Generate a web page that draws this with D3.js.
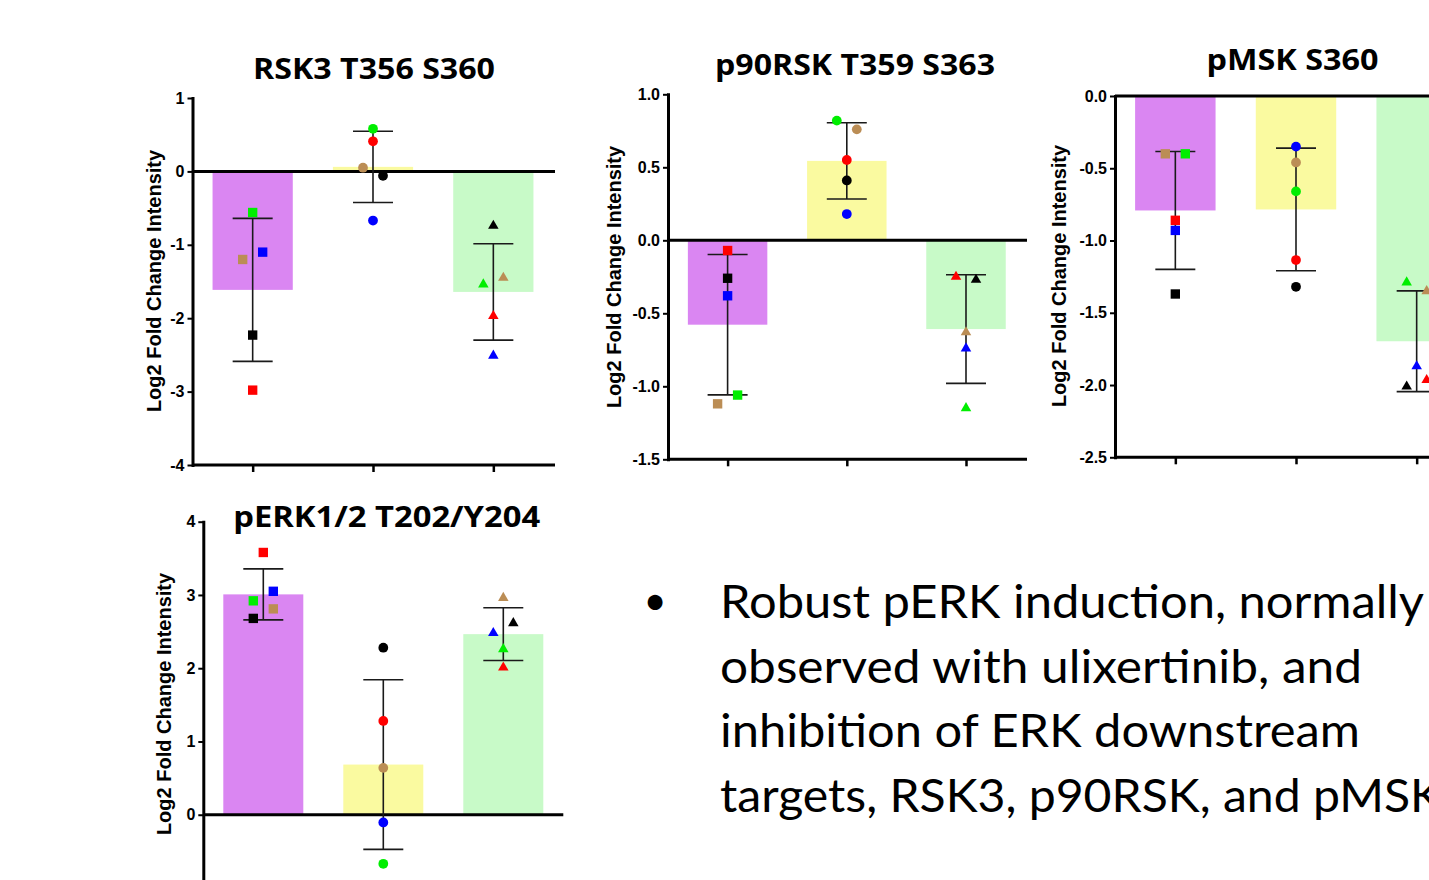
<!DOCTYPE html>
<html>
<head>
<meta charset="utf-8">
<script src="https://cdn.jsdelivr.net/npm/d3@7"></script>
<style>
	html, body { margin: 0; padding: 0; background: #fff; overflow: hidden; }
	svg { display: block; }
</style>
</head>
<body>
<div id="chart"></div>
<script>
//	replicate order inside every group: red, blue, green, tan, black
const replicates = ['red', 'blue', 'green', 'tan', 'black'];
const groups = ['g1', 'g2', 'g3'];

const rsk3Title = 'RSK3 T356 S360';
const rsk3Ticks = [1, 0, -1, -2, -3, -4];
const rsk3Values = [
	[-2.98, -1.10, -0.56, -1.20, -2.23],
	[0.41, -0.67, 0.58, 0.05, -0.06],
	[-1.97, -2.51, -1.54, -1.45, -0.74]
];

const p90Title = 'p90RSK T359 S363';
const p90Ticks = [1.0, 0.5, 0.0, -0.5, -1.0, -1.5];
const p90Values = [
	[-0.07, -0.38, -1.06, -1.12, -0.26],
	[0.55, 0.18, 0.82, 0.76, 0.41],
	[-0.25, -0.74, -1.15, -0.63, -0.27]
];

const pmskTitle = 'pMSK S360';
const pmskTicks = [0.0, -0.5, -1.0, -1.5, -2.0, -2.5];
const pmskValues = [
	[-0.86, -0.93, -0.40, -0.40, -1.37],
	[-1.135, -0.35, -0.66, -0.46, -1.32],
	[-1.965, -1.87, -1.29, -1.35, -2.01]
];

const perkTitle = 'pERK1/2 T202/Y204';
const perkTicks = [4, 3, 2, 1, 0, -1];
const perkValues = [
	[3.58, 3.05, 2.92, 2.81, 2.68],
	[1.28, -0.105, -0.67, 0.64, 2.28],
	[2.01, 2.48, 2.26, 2.96, 2.615]
];

const yLabel = 'Log2 Fold Change Intensity';
const bulletLines = [
	'Robust pERK induction, normally',
	'observed with ulixertinib, and',
	'inhibition of ERK downstream',
	'targets, RSK3, p90RSK, and pMSK'
];

//	样式
const barColors = ['#da86f2', '#fafaa0', '#c8fac8'];
const shapes = [d3.symbolSquare, d3.symbolCircle, d3.symbolTriangle];
const shapeSizes = [88, 75, 48];
const dotColors = { red: '#ff0000', blue: '#0000ff', green: '#00ee00', tan: '#bb8d55', black: '#000000' };
const H = 880;

//	每个面板的位置（像素）
const panels = [
	{
		title: rsk3Title, ticks: rsk3Ticks, values: rsk3Values, digits: 0,
		x: [192.5, 553.5], xEnd: 555, y: [465, 98],
		titleX: 374, titleY: 79, titleW: 242, labelX: 161, labelY: 281,
		jitter: [[0, 10, 0, -10, 0], [0, 0, 0, -10, 10], [0, 0, -10, 10, 0]]
	},
	{
		title: p90Title, ticks: p90Ticks, values: p90Values, digits: 1,
		x: [668, 1025.6], xEnd: 1027, y: [459.3, 94.3],
		titleX: 855, titleY: 75, titleW: 280, labelX: 621, labelY: 277,
		jitter: [[0, 0, 10, -10, 0], [0, 0, -10, 10, 0], [-10, 0, 0, 0, 10]]
	},
	{
		title: pmskTitle, ticks: pmskTicks, values: pmskValues, digits: 1,
		x: [1115, 1477], xEnd: 1480, y: [457.3, 96],
		titleX: 1292.5, titleY: 70, titleW: 172, labelX: 1066, labelY: 276,
		jitter: [[0, 0, 10, -10, 0], [0, 0, 0, 0, 0], [10, 0, -10, 10, -10]]
	},
	{
		title: perkTitle, ticks: perkTicks, values: perkValues, digits: 0,
		x: [203.3, 563.3], xEnd: 563.3, y: [888, 521.7],
		titleX: 386.7, titleY: 527, titleW: 307, labelX: 171, labelY: 704,
		jitter: [[0, 10, -10, 10, -10], [0, 0, 0, 0, 0], [0, -10, 0, 0, 10]]
	}
];

const drawMain = ($el, width, height) => {
	return d3.select($el)
		.append('svg')
		.attr('width', width)
		.attr('height', height);
};

//	画一个面板
const drawPanel = (svg, p) => {
	const g = svg.append('g');
	const x = d3.scalePoint().domain(groups).range(p.x).padding(0.5);
	const y = d3.scaleLinear().domain(d3.extent(p.ticks)).range(p.y);
	const barW = x.step() * 2 / 3;
	const stats = p.values.map((v, i) => ({
		group: groups[i],
		mean: d3.mean(v),
		sd: d3.deviation(v)
	}));

	//	柱子
	g.selectAll('rect.bar')
		.data(stats)
		.enter()
		.append('rect')
		.attr('class', 'bar')
		.attr('x', d => x(d.group) - barW / 2)
		.attr('y', d => y(Math.max(0, d.mean)))
		.attr('width', barW)
		.attr('height', d => Math.abs(y(d.mean) - y(0)))
		.style('fill', (d, i) => barColors[i]);

	//	x 轴（无标签）
	const gx = g.append('g')
		.attr('transform', 'translate(0,' + p.y[0] + ')')
		.call(d3.axisBottom(x).tickSize(7).tickSizeOuter(0).tickFormat(''));
	gx.select('.domain').remove();
	gx.selectAll('.tick line').attr('stroke', '#000').attr('stroke-width', 2.5);
	gx.append('line')
		.attr('x1', p.x[0]).attr('x2', p.xEnd)
		.attr('stroke', '#000').attr('stroke-width', 3);

	//	零线
	g.append('line')
		.attr('x1', p.x[0]).attr('x2', p.xEnd)
		.attr('y1', y(0)).attr('y2', y(0))
		.attr('stroke', '#000').attr('stroke-width', 3);

	//	y 轴（只画窗口内的刻度）
	const gy = g.append('g')
		.attr('transform', 'translate(' + p.x[0] + ',0)')
		.call(d3.axisLeft(y)
			.tickValues(p.ticks.filter(t => y(t) < H - 4))
			.tickSize(5)
			.tickSizeOuter(0)
			.tickPadding(3)
			.tickFormat(d => d.toFixed(p.digits)));
	gy.select('.domain').attr('stroke', '#000').attr('stroke-width', 3).attr('stroke-linecap', 'square');
	gy.selectAll('.tick line').attr('stroke', '#000').attr('stroke-width', 2);
	gy.selectAll('.tick text')
		.style('font-family', '"Liberation Sans", Arial, sans-serif')
		.style('font-weight', 'bold')
		.style('font-size', '16px')
		.style('fill', '#000');

	//	误差线 (mean ± SD)
	const err = g.selectAll('g.err')
		.data(stats)
		.enter()
		.append('g')
		.attr('class', 'err')
		.attr('stroke', '#1a1a1a')
		.attr('stroke-width', 1.6);
	err.append('line')
		.attr('x1', d => x(d.group)).attr('x2', d => x(d.group))
		.attr('y1', d => y(d.mean + d.sd)).attr('y2', d => y(d.mean - d.sd));
	err.append('line')
		.attr('x1', d => x(d.group) - 20).attr('x2', d => x(d.group) + 20)
		.attr('y1', d => y(d.mean + d.sd)).attr('y2', d => y(d.mean + d.sd));
	err.append('line')
		.attr('x1', d => x(d.group) - 20).attr('x2', d => x(d.group) + 20)
		.attr('y1', d => y(d.mean - d.sd)).attr('y2', d => y(d.mean - d.sd));

	//	点
	const dots = p.values.flatMap((v, gi) => v.map((val, ri) => ({ gi, ri, val })));
	g.selectAll('path.dot')
		.data(dots)
		.enter()
		.append('path')
		.attr('class', 'dot')
		.attr('d', d => d3.symbol().type(shapes[d.gi]).size(shapeSizes[d.gi])())
		.attr('transform', d => 'translate(' + (x(groups[d.gi]) + p.jitter[d.gi][d.ri]) + ',' + y(d.val) + ')')
		.style('fill', d => dotColors[replicates[d.ri]]);

	//	标题
	g.append('text')
		.attr('x', p.titleX)
		.attr('y', p.titleY)
		.attr('text-anchor', 'middle')
		.attr('textLength', p.titleW)
		.attr('lengthAdjust', 'spacingAndGlyphs')
		.style('font-family', '"Open Sans", sans-serif')
		.style('font-weight', 'bold')
		.style('font-size', '29px')
		.text(p.title);

	//	y 轴标题
	g.append('text')
		.attr('transform', 'translate(' + p.labelX + ',' + p.labelY + ') rotate(-90)')
		.attr('text-anchor', 'middle')
		.style('font-family', '"Liberation Sans", Arial, sans-serif')
		.style('font-weight', 'bold')
		.style('font-size', '20px')
		.text(yLabel);
};

//	文字说明
const drawBullet = (svg) => {
	const widths = [704, 642, 640, 722];
	const g = svg.append('g')
		.style('font-family', 'Lato, sans-serif')
		.style('font-size', '46px')
		.style('fill', '#000');
	g.append('text')
		.attr('x', 655)
		.attr('y', 615)
		.attr('text-anchor', 'middle')
		.style('font-size', '40px')
		.text('\u2022');
	g.selectAll('text.line')
		.data(bulletLines)
		.enter()
		.append('text')
		.attr('class', 'line')
		.attr('x', 720)
		.attr('y', (d, i) => 618 + i * 64.5)
		.attr('textLength', (d, i) => widths[i])
		.attr('lengthAdjust', 'spacingAndGlyphs')
		.text(d => d);
};

const svg = drawMain('#chart', 1429, H);
panels.forEach(p => drawPanel(svg, p));
drawBullet(svg);
</script>
</body>
</html>
